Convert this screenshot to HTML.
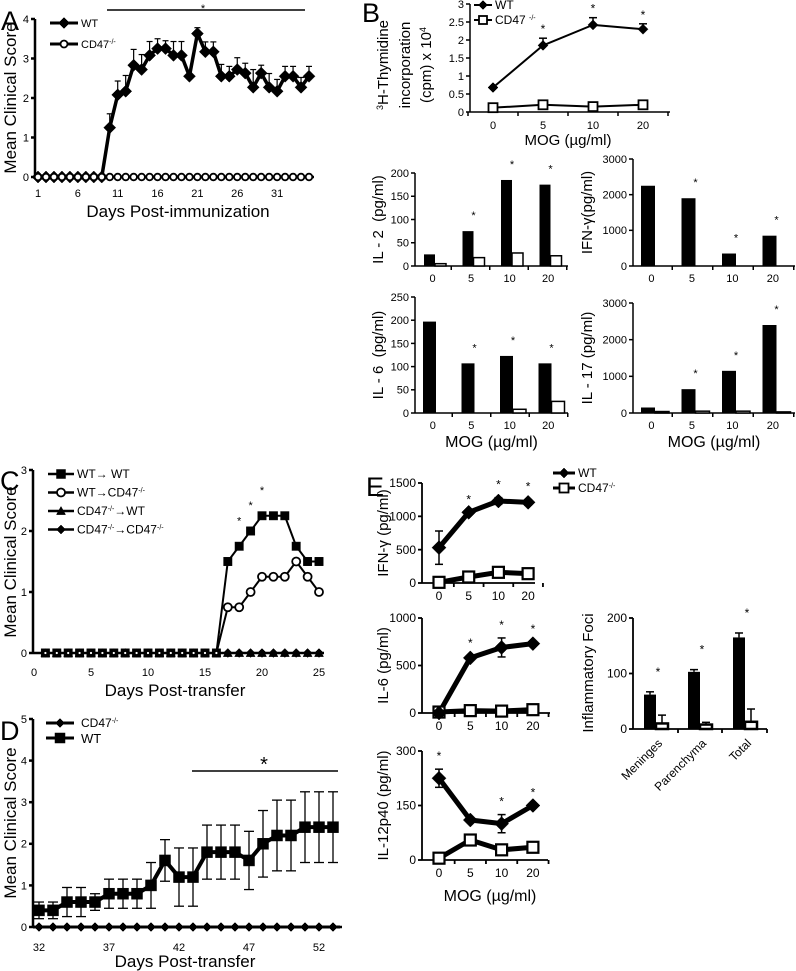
<!DOCTYPE html>
<html><head><meta charset="utf-8">
<style>
html,body{margin:0;padding:0;background:#fff;}
svg{display:block;font-family:"Liberation Sans",sans-serif;}
</style></head>
<body>
<svg id="fig" width="796" height="971" viewBox="0 0 796 971" xmlns="http://www.w3.org/2000/svg"></svg>
<script>
// ---------- DATA ----------
// Panel A
const aDays=[1,2,3,4,5,6,7,8,9,10,11,12,13,14,15,16,17,18,19,20,21,22,23,24,25,26,27,28,29,30,31,32,33,34,35];
const aWT=[0,0,0,0,0,0,0,0,0,1.25,2.08,2.17,2.83,2.72,3.08,3.25,3.25,3.08,3.08,2.55,3.63,3.17,3.17,2.55,2.55,2.72,2.63,2.27,2.63,2.27,2.17,2.55,2.55,2.27,2.55];
const aWTerr=[0,0,0,0,0,0,0,0,0,0.35,0.35,0.4,0.4,0.38,0.35,0.25,0.2,0.35,0.35,0,0.15,0.25,0.25,0.3,0.25,0.3,0.25,0.45,0.2,0.35,0.3,0.25,0.25,0.25,0.25];
const aKO=[0,0,0,0,0,0,0,0,0,0,0,0,0,0,0,0,0,0,0,0,0,0,0,0,0,0,0,0,0,0,0,0,0,0,0];
const aTicks=[1,6,11,16,21,26,31];
// Panel B (proliferation)
const mogCats=["0","5","10","20"];
const bWT=[0.68,1.85,2.42,2.3];
const bWTerr=[0,0.2,0.2,0.15];
const bKO=[0.12,0.2,0.15,0.2];
const bStars=[1,2,3];
// B bar panels
const il2WT=[25,75,185,175], il2KO=[5,18,28,22], il2Stars=[1,2,3];
const ifnWT=[2250,1900,350,850], ifnKO=[0,0,0,0], ifnStars=[1,2,3];
const il6WT=[197,107,123,107], il6KO=[0,0,8,25], il6Stars=[1,2,3];
const il17WT=[150,650,1150,2400], il17KO=[40,50,50,30], il17Stars=[1,2,3];
// Panel C
const cDays=[1,2,3,4,5,6,7,8,9,10,11,12,13,14,15,16,17,18,19,20,21,22,23,24,25];
const cWTWT=[0,0,0,0,0,0,0,0,0,0,0,0,0,0,0,0,1.5,1.75,2,2.25,2.25,2.25,1.75,1.5,1.5];
const cWTKO=[0,0,0,0,0,0,0,0,0,0,0,0,0,0,0,0,0.75,0.75,1,1.25,1.25,1.25,1.5,1.25,1];
const cKOWT=[0,0,0,0,0,0,0,0,0,0,0,0,0,0,0,0,0,0,0,0,0,0,0,0,0];
const cKOKO=[0,0,0,0,0,0,0,0,0,0,0,0,0,0,0,0,0,0,0,0,0,0,0,0,0];
const cStarDays=[18,19,20];
// Panel D
const dDays=[32,33,34,35,36,37,38,39,40,41,42,43,44,45,46,47,48,49,50,51,52,53];
const dWT=[0.4,0.4,0.6,0.6,0.6,0.8,0.8,0.8,1.0,1.6,1.2,1.2,1.8,1.8,1.8,1.6,2.0,2.2,2.2,2.4,2.4,2.4];
const dWTerr=[0.2,0.2,0.35,0.35,0.2,0.35,0.35,0.35,0.55,0.5,0.7,0.7,0.65,0.65,0.65,0.7,0.8,0.85,0.85,0.85,0.85,0.85];
const dKO=[0,0,0,0,0,0,0,0,0,0,0,0,0,0,0,0,0,0,0,0,0,0];
const dTicks=[32,37,42,47,52];
// Panel E
const eIfnWT=[530,1060,1230,1210], eIfnWTerr=[250,0,50,40], eIfnKO=[10,90,160,140], eIfnStars=[1,2,3];
const eIl6WT=[0,580,690,730], eIl6WTerr=[0,20,100,20], eIl6KO=[10,25,20,35], eIl6Stars=[1,2,3];
const eIl12WT=[225,110,100,150], eIl12WTerr=[25,0,25,0], eIl12KO=[5,55,28,35], eIl12Stars=[0,2,3];
const fociCats=["Meninges","Parenchyma","Total"];
const fociWT=[62,103,165], fociWTerr=[5,4,8];
const fociKO=[10,8,13], fociKOerr=[15,4,23];

// ---------- HELPERS ----------
const NS='http://www.w3.org/2000/svg';
const svg=document.getElementById('fig');
function mk(tag,attrs,name,parent){
  const e=document.createElementNS(NS,tag);
  for(const k in attrs) e.setAttribute(k,attrs[k]);
  
  
  (parent||svg).appendChild(e);
  return e;
}
function grp(name){return mk('g',{},name);}
function txt(g,x,y,html,size,name,anchor,rot){
  const a={x:x,y:y,'font-size':size,'text-anchor':anchor||'middle',fill:'#000'};
  if(rot!==undefined) a.transform='rotate('+rot+' '+x+' '+y+')';
  const t=mk('text',a,name,g);
  t.innerHTML=html;
  return t;
}
function lin(d0,d1,r0,r1){return v=>r0+(v-d0)*(r1-r0)/(d1-d0);}
function line(g,x1,y1,x2,y2,w,name){return mk('line',{x1:x1,y1:y1,x2:x2,y2:y2,stroke:'#000','stroke-width':w},name,g);}
function poly(g,xs,ys,w,name){
  let p='';for(let i=0;i<xs.length;i++)p+=xs[i]+','+ys[i]+' ';
  return mk('polyline',{points:p,fill:'none',stroke:'#000','stroke-width':w,'stroke-linejoin':'round'},name,g);
}
function marker(g,type,x,y,s,fill,sw,name){
  if(type==='diamond') return mk('polygon',{points:(x)+','+(y-s)+' '+(x+s)+','+y+' '+x+','+(y+s)+' '+(x-s)+','+y,fill:fill,stroke:'#000','stroke-width':sw},name,g);
  if(type==='square') return mk('rect',{x:x-s,y:y-s,width:2*s,height:2*s,fill:fill,stroke:'#000','stroke-width':sw},name,g);
  if(type==='circle') return mk('circle',{cx:x,cy:y,r:s,fill:fill,stroke:'#000','stroke-width':sw},name,g);
  if(type==='triangle') return mk('polygon',{points:x+','+(y-s)+' '+(x+s)+','+(y+s*0.8)+' '+(x-s)+','+(y+s*0.8),fill:fill,stroke:'#000','stroke-width':sw},name,g);
}
function errbar(g,x,yv,yhi,ylo,cap,w,name){
  line(g,x,yhi,x,ylo,w,name);
  line(g,x-cap,yhi,x+cap,yhi,w,name+'-cap');
  if(ylo!==yv) line(g,x-cap,ylo,x+cap,ylo,w,name+'-cap-low');
}
function yAxis(g,x,sc,vals,labels,fs,w){
  line(g,x,sc(vals[vals.length-1]),x,sc(vals[0]),w,'y-axis-line');
  for(let i=0;i<vals.length;i++){
    line(g,x-4,sc(vals[i]),x,sc(vals[i]),w,'y-tick');
    txt(g,x-6,sc(vals[i])+fs*0.35,labels[i],fs,'y-tick-label','end');
  }
}

// ---------- PANEL A ----------
(function(){
  const g=grp('panel-a');
  const xs=lin(1,35,38,309), ys=lin(0,4,177,19);
  txt(g,1,30,'A',27,'panel-label-a','start');
  yAxis(g,35,ys,[0,1,2,3,4],['0','1','2','3','4'],11,2.5);
  line(g,35,177,314,177,2.5,'x-axis-line');
  for(const d of aDays) line(g,xs(d),177,xs(d),181,1.5,'x-tick');
  for(const d of aTicks) txt(g,xs(d),197,String(d),11,'x-tick-label');
  txt(g,178,217,'Days Post-immunization',17,'x-axis-title');
  txt(g,16,98,'Mean Clinical Score',17,'y-axis-title','middle',-90);
  line(g,107,10,305,10,1.5,'significance-line');
  txt(g,203,12,'*',11,'significance-star');
  for(let i=0;i<aDays.length;i++) if(aWTerr[i]>0) errbar(g,xs(aDays[i]),ys(aWT[i]),ys(aWT[i]+aWTerr[i]),ys(aWT[i]),3,1.2,'wt-error-bar');
  poly(g,aDays.map(xs),aWT.map(ys),3.5,'wt-line');
  for(let i=0;i<aDays.length;i++) marker(g,'diamond',xs(aDays[i]),ys(aWT[i]),6,'#000',0.5,'wt-point');
  for(let i=0;i<aDays.length;i++) marker(g,'circle',xs(aDays[i]),ys(aKO[i]),3.3,'#fff',1.8,'cd47-point');
  line(g,50,23,78,23,3,'legend-wt-line');marker(g,'diamond',64,23,5.5,'#000',0.5,'legend-wt-marker');
  txt(g,81,27,'WT',11,'legend-wt-label','start');
  line(g,50,44,78,44,3,'legend-cd47-line');marker(g,'circle',64,44,3.5,'#fff',1.8,'legend-cd47-marker');
  txt(g,81,48,'CD47<tspan dy="-4" font-size="7">-/-</tspan>',11,'legend-cd47-label','start');
})();

// ---------- PANEL B (proliferation) ----------
(function(){
  const g=grp('panel-b-proliferation');
  const xs=i=>493+i*50, ys=lin(0,3,112,4);
  txt(g,362,22,'B',27,'panel-label-b','start');
  yAxis(g,470,ys,[0,0.5,1,1.5,2,2.5,3],['0','0.5','1','1.5','2','2.5','3'],11,1.5);
  line(g,470,112,670,112,1.5,'x-axis-line');
  for(let i=0;i<=4;i++) line(g,468+i*50,112,468+i*50,116,1.5,'x-tick');
  mogCats.forEach((c,i)=>txt(g,xs(i),129,c,11,'x-tick-label'));
  txt(g,568,145,'MOG (µg/ml)',15,'x-axis-title');
  txt(g,388,65,'<tspan dy="-5" font-size="9">3</tspan><tspan dy="5">H-Thymidine</tspan>',15,'y-axis-title-line1','middle',-90);
  txt(g,410,65,'incorporation',15,'y-axis-title-line2','middle',-90);
  txt(g,431,65,'(cpm) x 10<tspan dy="-5" font-size="9">4</tspan>',15,'y-axis-title-line3','middle',-90);
  for(let i=0;i<4;i++) if(bWTerr[i]>0) errbar(g,xs(i),ys(bWT[i]),ys(bWT[i]+bWTerr[i]),ys(bWT[i]),4,1.5,'wt-error-bar');
  poly(g,mogCats.map((c,i)=>xs(i)),bWT.map(ys),2,'wt-line');
  poly(g,mogCats.map((c,i)=>xs(i)),bKO.map(ys),2,'cd47-line');
  for(let i=0;i<4;i++) marker(g,'diamond',xs(i),ys(bWT[i]),5,'#000',0.5,'wt-point');
  for(let i=0;i<4;i++) marker(g,'square',xs(i),ys(bKO[i]),4.5,'#fff',1.8,'cd47-point');
  for(const i of bStars) txt(g,xs(i),ys(bWT[i]+bWTerr[i])-5,'*',12,'significance-star');
  line(g,474,5,492,5,2,'legend-wt-line');marker(g,'diamond',483,5,4.5,'#000',0.5,'legend-wt-marker');
  txt(g,495,9,'WT',12,'legend-wt-label','start');
  line(g,474,20,492,20,2,'legend-cd47-line');marker(g,'square',483,20,4,'#fff',1.8,'legend-cd47-marker');
  txt(g,495,24,'CD47 <tspan dy="-4" font-size="7">-/-</tspan>',12,'legend-cd47-label','start');
})();

// ---------- B bar panels ----------
function barPanel(name,axX,axEnd,y0,yTop,max,tickVals,wt,ko,stars,left0,step,bw,ytitle,tx,mog){
  const g=grp(name);
  const ys=lin(0,max,y0,yTop);
  yAxis(g,axX,ys,tickVals,tickVals.map(String),11,1.5);
  line(g,axX,y0,axEnd,y0,1.5,'x-axis-line');
  for(let i=0;i<4;i++){
    const l=left0+i*step;
    mk('rect',{x:l,y:ys(wt[i]),width:bw,height:Math.max(0,y0-ys(wt[i])),fill:'#000'},'wt-bar',g);
    if(ko[i]>0) mk('rect',{x:l+bw,y:ys(ko[i]),width:bw,height:Math.max(0,y0-ys(ko[i])),fill:'#fff',stroke:'#000','stroke-width':1.5},'cd47-bar',g);
    line(g,l+bw+step/2-3,y0,l+bw+step/2-3,y0+4,1.5,'x-tick');
    txt(g,l+bw*0.6+2,y0+16,mogCats[i],11,'x-tick-label');
  }
  for(const i of stars) txt(g,left0+i*step+bw,ys(wt[i])-12,'*',11,'significance-star');
  txt(g,tx,(y0+yTop)/2,ytitle,15,'y-axis-title','middle',-90);
  if(mog) txt(g,(axX+axEnd)/2,y0+34,'MOG (µg/ml)',16,'x-axis-title');
}
barPanel('panel-b-il2',415,568,266,173,200,[0,50,100,150,200],il2WT,il2KO,il2Stars,424,38.5,11,'IL - 2&#160;&#160;(pg/ml)',383,false);
barPanel('panel-b-ifng',633,795,266,159,3000,[0,1000,2000,3000],ifnWT,ifnKO,ifnStars,641,40.5,14,'IFN-γ(pg/ml)',592,false);
barPanel('panel-b-il6',415,568,413,297,250,[0,50,100,150,200,250],il6WT,il6KO,il6Stars,423,38.5,13,'IL - 6&#160;&#160;(pg/ml)',383,true);
barPanel('panel-b-il17',633,795,413,303,3000,[0,1000,2000,3000],il17WT,il17KO,il17Stars,641,40.5,14,'IL - 17 (pg/ml)',592,true);

// ---------- PANEL C ----------
(function(){
  const g=grp('panel-c');
  const xs=lin(0,25,34,319), ys=lin(0,3,653,470);
  txt(g,0,490,'C',27,'panel-label-c','start');
  yAxis(g,33,ys,[0,1,2,3],['0','1','2','3'],11,2.5);
  line(g,33,653,324,653,2.5,'x-axis-line');
  for(const d of cDays) line(g,xs(d),653,xs(d),657,1.5,'x-tick');
  for(const d of [0,5,10,15,20,25]) txt(g,xs(d),676,String(d),11,'x-tick-label');
  txt(g,175,696,'Days Post-transfer',17,'x-axis-title');
  txt(g,16,562,'Mean Clinical Score',17,'y-axis-title','middle',-90);
  poly(g,cDays.map(xs),cKOKO.map(ys),2,'cd47-to-cd47-line');
  poly(g,cDays.map(xs),cKOWT.map(ys),2,'cd47-to-wt-line');
  poly(g,cDays.map(xs),cWTKO.map(ys),2,'wt-to-cd47-line');
  poly(g,cDays.map(xs),cWTWT.map(ys),2,'wt-to-wt-line');
  for(let i=0;i<cDays.length;i++) marker(g,'diamond',xs(cDays[i]),ys(cKOKO[i]),4.5,'#000',0.5,'cd47-to-cd47-point');
  for(let i=0;i<cDays.length;i++) marker(g,'triangle',xs(cDays[i]),ys(cKOWT[i]),4.5,'#000',0.5,'cd47-to-wt-point');
  for(let i=0;i<cDays.length;i++) if(cWTKO[i]>0) marker(g,'circle',xs(cDays[i]),ys(cWTKO[i]),4,'#fff',1.8,'wt-to-cd47-point');
  for(let i=0;i<cDays.length;i++) if(i<16||cWTWT[i]>0) marker(g,'square',xs(cDays[i]),ys(cWTWT[i]),4.2,'#000',0.5,'wt-to-wt-point');
  for(let i=0;i<16;i++) marker(g,'circle',xs(cDays[i]),ys(cWTKO[i]),1.5,'#fff',0.8,'wt-to-cd47-point');
  for(const d of cStarDays) txt(g,xs(d),ys(cWTWT[cDays.indexOf(d)])-22,'*',11,'significance-star');
  const L=[['square','#000','WT→ WT'],['circle','#fff','WT→CD47<tspan dy="-4" font-size="7">-/-</tspan>'],['triangle','#000','CD47<tspan dy="-4" font-size="7">-/-</tspan><tspan dy="4">→WT</tspan>'],['diamond','#000','CD47<tspan dy="-4" font-size="7">-/-</tspan><tspan dy="4">→CD47</tspan><tspan dy="-4" font-size="7">-/-</tspan>']];
  L.forEach((l,i)=>{const y=474+i*18.5;
    line(g,48,y,74,y,2.5,'legend-line');
    marker(g,l[0],61,y,l[0]==='circle'?4:4.5,l[1],l[0]==='circle'?1.8:0.5,'legend-marker');
    txt(g,77,y+4,l[2],12,'legend-label','start');});
})();

// ---------- PANEL D ----------
(function(){
  const g=grp('panel-d');
  const xs=lin(32,53,39,333), ys=lin(0,5,927,719);
  txt(g,0,740,'D',27,'panel-label-d','start');
  yAxis(g,33,ys,[0,1,2,3,4,5],['0','1','2','3','4','5'],11,2.5);
  line(g,33,927,342,927,2.5,'x-axis-line');
  for(const d of dDays) line(g,xs(d),927,xs(d),931,1.5,'x-tick');
  for(const d of dTicks) txt(g,xs(d),951,String(d),11,'x-tick-label');
  txt(g,185,967,'Days Post-transfer',17,'x-axis-title');
  txt(g,16,823,'Mean Clinical Score',17,'y-axis-title','middle',-90);
  line(g,192,771,338,771,1.5,'significance-line');
  txt(g,264,771,'*',20,'significance-star');
  for(let i=0;i<dDays.length;i++) errbar(g,xs(dDays[i]),ys(dWT[i]),ys(dWT[i]+dWTerr[i]),ys(dWT[i]-dWTerr[i]),5,1.3,'wt-error-bar');
  poly(g,dDays.map(xs),dWT.map(ys),4,'wt-line');
  for(let i=0;i<dDays.length;i++) marker(g,'square',xs(dDays[i]),ys(dWT[i]),5.5,'#000',0.5,'wt-point');
  line(g,33,ys(0),340,ys(0),3,'cd47-line');
  for(let i=0;i<dDays.length;i++) marker(g,'diamond',xs(dDays[i]),ys(dKO[i]),4.5,'#000',0.5,'cd47-point');
  line(g,46,723,74,723,3,'legend-cd47-line');marker(g,'diamond',60,723,4.5,'#000',0.5,'legend-cd47-marker');
  txt(g,81,727,'CD47<tspan dy="-4" font-size="7">-/-</tspan>',12,'legend-cd47-label','start');
  line(g,46,738,74,738,3,'legend-wt-line');marker(g,'square',60,738,5,'#000',0.5,'legend-wt-marker');
  txt(g,81,743,'WT',13,'legend-wt-label','start');
})();

// ---------- PANEL E ----------
function ePanel(name,y0,yTop,max,tv,wt,wterr,ko,stars,step,axEnd,title){
  const g=grp(name);
  const xs=i=>439+i*step, ys=lin(0,max,y0,yTop);
  yAxis(g,422,ys,tv,tv.map(String),12,1.8);
  line(g,422,y0,axEnd,y0,1.8,'x-axis-line');
  for(let i=0;i<4;i++){line(g,xs(i)+step/2,y0,xs(i)+step/2,y0+4,1.8,'x-tick');txt(g,xs(i),y0+17,mogCats[i],12,'x-tick-label');}
  for(let i=0;i<4;i++) if(wterr[i]>0) errbar(g,xs(i),ys(wt[i]),ys(wt[i]+wterr[i]),ys(wt[i]-wterr[i]),4,1.5,'wt-error-bar');
  poly(g,mogCats.map((c,i)=>xs(i)),ko.map(ys),5,'cd47-line');
  poly(g,mogCats.map((c,i)=>xs(i)),wt.map(ys),5,'wt-line');
  for(let i=0;i<4;i++) marker(g,'square',xs(i),ys(ko[i]),5.5,'#fff',2.2,'cd47-point');
  for(let i=0;i<4;i++) marker(g,'diamond',xs(i),ys(wt[i]),7,'#000',0.5,'wt-point');
  for(const i of stars) txt(g,xs(i),ys(wt[i]+wterr[i])-9,'*',12,'significance-star');
  txt(g,388,(y0+yTop)/2,title,15,'y-axis-title','middle',-90);
}
(function(){
  const g=grp('panel-e-header');
  txt(g,366,496,'E',27,'panel-label-e','start');
  line(g,553,473,575,473,3,'legend-wt-line');marker(g,'diamond',564,473,5,'#000',0.5,'legend-wt-marker');
  txt(g,578,477,'WT',12,'legend-wt-label','start');
  line(g,553,488,575,488,3,'legend-cd47-line');marker(g,'square',564,488,4.5,'#fff',1.8,'legend-cd47-marker');
  txt(g,578,492,'CD47<tspan dy="-4" font-size="7">-/-</tspan>',12,'legend-cd47-label','start');
})();
ePanel('panel-e-ifng',583,483,1500,[0,500,1000,1500],eIfnWT,eIfnWTerr,eIfnKO,eIfnStars,29.7,535,'IFN-γ (pg/ml)');
ePanel('panel-e-il6',713,618,1000,[0,500,1000],eIl6WT,eIl6WTerr,eIl6KO,eIl6Stars,31.3,550,'IL-6 (pg/ml)');
ePanel('panel-e-il12p40',860,751,300,[0,150,300],eIl12WT,eIl12WTerr,eIl12KO,eIl12Stars,31.3,548,'IL-12p40 (pg/ml)');
txt(svg,490,901,'MOG (µg/ml)',16,'e-x-axis-title');

// Inflammatory foci
(function(){
  const g=grp('panel-e-inflammatory-foci');
  const ys=lin(0,200,729,618);
  const lefts=[644,688,733];
  yAxis(g,633,ys,[0,100,200],['0','100','200'],12,1.8);
  line(g,633,729,767,729,1.8,'x-axis-line');
  for(const t of [678,722,767]) line(g,t,729,t,733,1.8,'x-tick');
  for(let i=0;i<3;i++){
    const l=lefts[i];
    errbar(g,l+6,ys(fociWT[i]),ys(fociWT[i]+fociWTerr[i]),ys(fociWT[i]),4,1.5,'wt-error-bar');
    mk('rect',{x:l,y:ys(fociWT[i]),width:12,height:729-ys(fociWT[i]),fill:'#000'},'wt-bar',g);
    errbar(g,l+18,ys(fociKO[i]),ys(fociKO[i]+fociKOerr[i]),ys(fociKO[i]),4,1.5,'cd47-error-bar');
    mk('rect',{x:l+12,y:ys(fociKO[i]),width:12,height:729-ys(fociKO[i]),fill:'#fff',stroke:'#000','stroke-width':2.5},'cd47-bar',g);
    txt(g,l+14,ys(fociWT[i]+fociWTerr[i])-16,'*',12,'significance-star');
    txt(g,l+19,744,fociCats[i],12,'category-label','end',-45);
  }
  txt(g,593,673,'Inflammatory Foci',15,'y-axis-title','middle',-90);
})();
</script>
</body></html>
